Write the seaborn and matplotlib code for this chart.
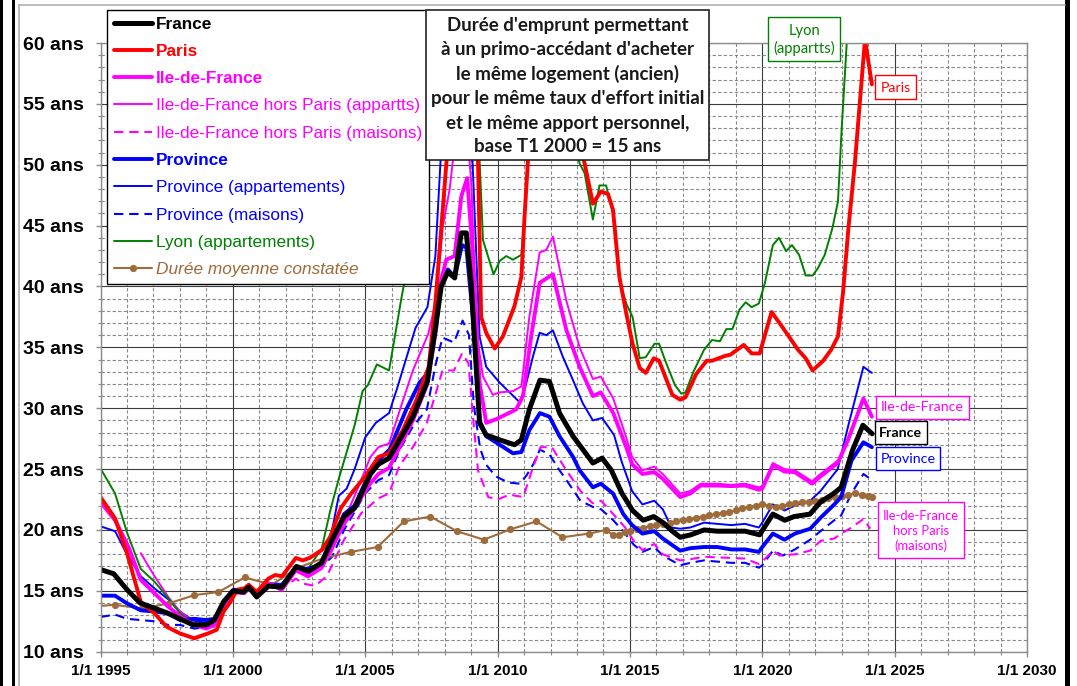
import matplotlib
matplotlib.use("Agg")
import matplotlib.pyplot as plt
from matplotlib.lines import Line2D
from matplotlib.patches import Rectangle
from matplotlib.ticker import MultipleLocator
import seaborn as sns
import pandas as pd

# ---------------- data (year, duration in years) ----------------
france = [(1995.0,16.75),(1995.5,16.4),(1996.0,15.1),(1996.5,14.0),(1997.0,13.6),(1997.5,13.2),(1998.0,12.7),(1998.5,12.2),(1999.0,12.2),(1999.3,12.6),(1999.65,14.1),(2000.0,15.0),(2000.4,14.9),(2000.6,15.3),(2000.9,14.5),(2001.35,15.4),(2001.85,15.3),(2002.4,17.0),(2002.85,16.6),(2003.35,17.3),(2003.75,19.2),(2004.2,21.1),(2004.6,21.8),(2005.2,24.6),(2005.5,25.4),(2005.9,25.9),(2006.3,27.4),(2006.8,29.3),(2007.35,32.2),(2007.68,37.0),(2007.87,40.0),(2008.12,41.2),(2008.38,40.7),(2008.63,44.4),(2008.82,44.4),(2009.0,40.3),(2009.32,28.8),(2009.57,27.8),(2010.08,27.4),(2010.64,27.0),(2010.9,27.4),(2011.2,29.9),(2011.6,32.3),(2011.96,32.2),(2012.34,29.6),(2012.85,27.7),(2013.6,25.5),(2013.95,25.9),(2014.3,24.9),(2014.7,23.0),(2015.1,21.6),(2015.5,20.8),(2015.9,21.1),(2016.25,20.6),(2016.6,19.9),(2016.9,19.4),(2017.3,19.6),(2017.8,20.0),(2018.3,19.9),(2018.8,19.9),(2019.35,19.9),(2019.9,19.6),(2020.0,19.95),(2020.4,21.3),(2020.85,20.8),(2021.2,21.1),(2021.8,21.3),(2022.2,22.3),(2022.7,23.0),(2022.98,23.5),(2023.4,26.5),(2023.8,28.6),(2024.15,27.9)]

paris = [(1995.0,22.7),(1995.55,20.95),(1996.0,18.1),(1996.52,14.1),(1997.04,13.15),(1997.5,12.05),(1998.0,11.5),(1998.54,11.1),(1999.06,11.5),(1999.39,11.8),(1999.65,13.3),(1999.91,14.1),(2000.17,15.1),(2000.43,15.2),(2000.6,15.5),(2000.9,14.9),(2001.34,16.0),(2001.6,16.3),(2001.86,16.2),(2002.38,17.7),(2002.64,17.5),(2002.9,17.7),(2003.36,18.35),(2003.68,19.45),(2004.08,21.8),(2004.47,23.0),(2005.0,24.4),(2005.5,26.0),(2005.9,26.3),(2006.42,28.2),(2006.94,30.7),(2007.4,33.4),(2007.66,38.9),(2008.08,50.5),(2008.5,62.0),(2009.0,62.0),(2009.26,50.4),(2009.38,37.5),(2009.57,36.2),(2009.89,34.9),(2010.2,35.9),(2010.64,38.4),(2010.9,40.8),(2011.02,45.8),(2011.15,50.4),(2011.6,55.0),(2012.2,56.0),(2012.9,53.0),(2013.29,50.1),(2013.6,46.8),(2013.9,47.8),(2014.17,47.6),(2014.36,46.3),(2014.6,40.8),(2014.86,37.8),(2015.1,35.3),(2015.37,33.3),(2015.6,32.9),(2015.9,34.1),(2016.1,33.9),(2016.6,31.1),(2016.9,30.7),(2017.1,30.9),(2017.5,32.8),(2017.9,33.9),(2018.1,33.9),(2018.6,34.3),(2018.8,34.4),(2019.3,35.2),(2019.6,34.5),(2019.9,34.5),(2020.35,37.9),(2020.65,37.0),(2020.97,36.0),(2021.35,34.8),(2021.64,34.1),(2021.9,33.1),(2022.3,33.9),(2022.6,34.8),(2022.86,35.9),(2023.05,39.5),(2023.25,44.7),(2023.5,50.2),(2023.88,60.3),(2024.14,56.6)]

idf = [(1995.0,22.3),(1995.55,20.8),(1996.06,18.6),(1996.52,15.9),(1997.04,14.8),(1997.56,13.7),(1998.0,12.9),(1998.54,12.2),(1999.0,11.9),(1999.3,12.2),(1999.65,13.4),(2000.04,14.9),(2000.43,14.8),(2000.6,15.2),(2000.9,14.8),(2001.34,15.6),(2001.86,15.2),(2002.38,16.7),(2002.84,16.3),(2003.36,17.1),(2003.75,18.6),(2004.2,20.5),(2004.6,21.8),(2005.18,23.8),(2005.5,24.6),(2005.9,25.1),(2006.3,26.8),(2006.8,29.0),(2007.33,31.9),(2007.68,36.5),(2007.81,40.0),(2008.06,42.2),(2008.38,42.5),(2008.63,47.4),(2008.85,48.9),(2009.07,42.5),(2009.32,32.1),(2009.57,28.8),(2009.95,29.1),(2010.33,29.5),(2010.7,29.9),(2010.96,31.0),(2011.27,35.9),(2011.59,40.3),(2012.09,41.0),(2012.6,36.4),(2013.1,33.4),(2013.6,31.0),(2013.9,31.3),(2014.37,29.6),(2014.86,26.8),(2015.08,25.4),(2015.47,24.6),(2015.92,24.75),(2016.24,24.2),(2016.9,22.7),(2017.28,23.0),(2017.67,23.65),(2018.3,23.65),(2018.83,23.6),(2019.35,23.65),(2019.87,23.3),(2020.0,23.4),(2020.4,25.3),(2020.84,24.8),(2021.23,24.75),(2021.88,23.8),(2022.2,24.4),(2022.85,25.5),(2023.24,27.4),(2023.82,30.8),(2024.14,29.3)]

idf_hp_apparts = [(1996.52,18.1),(1997.04,16.2),(1997.56,14.5),(1998.0,13.3),(1998.54,12.4),(1999.0,12.0),(1999.3,12.3),(1999.65,13.5),(2000.04,14.9),(2000.43,14.8),(2000.6,15.2),(2000.9,14.6),(2001.34,15.5),(2001.86,15.0),(2002.38,16.6),(2002.84,16.1),(2003.36,16.8),(2003.75,18.3),(2004.2,20.8),(2004.6,22.8),(2005.2,26.0),(2005.5,26.8),(2005.9,27.1),(2006.3,29.8),(2006.8,33.1),(2007.38,36.1),(2007.68,38.9),(2007.93,44.9),(2008.19,48.0),(2008.45,53.0),(2008.75,56.0),(2009.02,48.0),(2009.19,36.4),(2009.45,32.6),(2009.82,31.1),(2010.08,31.3),(2010.58,31.4),(2010.9,31.8),(2011.2,37.5),(2011.59,42.8),(2011.84,43.0),(2012.09,44.1),(2012.6,38.8),(2013.1,35.0),(2013.6,32.4),(2013.9,32.6),(2014.37,30.8),(2014.86,27.6),(2015.08,26.0),(2015.47,24.9),(2015.92,25.2),(2016.24,24.6),(2016.9,23.0),(2017.28,23.2),(2017.67,23.8),(2018.3,23.8),(2018.83,23.7),(2019.35,23.8),(2019.87,23.5),(2020.0,23.6),(2020.4,25.5),(2020.84,25.0),(2021.23,24.9),(2021.88,24.0),(2022.2,24.6),(2022.85,25.7)]

idf_hp_maisons = [(2001.75,15.0),(2002.38,16.0),(2002.64,15.6),(2003.1,15.4),(2003.55,16.2),(2003.9,17.8),(2004.2,19.2),(2004.86,21.4),(2005.5,22.6),(2005.9,23.0),(2006.3,25.3),(2006.8,26.8),(2007.33,28.8),(2007.66,31.2),(2007.92,33.1),(2008.35,33.1),(2008.66,34.5),(2008.9,33.7),(2009.07,29.3),(2009.26,24.9),(2009.65,22.7),(2010.0,22.5),(2010.45,22.9),(2010.97,22.7),(2011.3,24.9),(2011.62,26.8),(2012.05,26.8),(2012.6,24.9),(2013.13,23.2),(2013.59,22.2),(2013.91,22.4),(2014.37,21.3),(2014.82,20.2),(2015.14,19.1),(2015.47,18.35),(2015.92,18.85),(2016.24,18.0),(2016.9,17.5),(2017.28,17.6),(2017.8,17.8),(2018.3,17.75),(2018.83,17.7),(2019.35,17.65),(2019.87,17.2),(2020.0,17.4),(2020.4,18.3),(2020.65,17.9),(2021.23,18.0),(2021.81,18.3),(2022.2,19.1),(2022.72,19.3),(2022.98,19.7),(2023.37,20.2),(2023.82,20.9),(2024.08,20.1)]

province = [(1995.0,14.6),(1995.55,14.6),(1996.0,13.97),(1996.52,13.4),(1997.04,13.3),(1997.56,13.15),(1998.0,12.6),(1998.54,12.7),(1999.0,12.6),(1999.3,12.7),(1999.65,14.0),(2000.04,15.1),(2000.43,14.9),(2000.6,15.3),(2000.9,14.5),(2001.34,15.5),(2001.86,15.5),(2002.38,16.9),(2002.84,16.8),(2003.36,17.2),(2003.75,19.0),(2004.2,21.3),(2004.6,22.0),(2005.3,25.3),(2005.92,26.6),(2006.55,29.9),(2007.05,32.1),(2007.37,32.9),(2007.68,37.5),(2007.87,40.1),(2008.12,41.4),(2008.38,40.8),(2008.66,43.4),(2008.82,43.2),(2009.07,37.5),(2009.32,29.0),(2009.57,27.7),(2010.08,27.0),(2010.58,26.3),(2010.9,26.4),(2011.2,28.2),(2011.6,29.6),(2011.96,29.3),(2012.34,27.7),(2012.85,26.0),(2013.1,24.9),(2013.6,23.5),(2013.9,23.8),(2014.36,23.0),(2014.75,21.3),(2015.08,20.4),(2015.47,19.7),(2015.92,19.9),(2016.24,19.3),(2016.9,18.3),(2017.28,18.5),(2017.8,18.6),(2018.3,18.6),(2018.83,18.4),(2019.35,18.4),(2019.87,18.2),(2020.0,18.6),(2020.4,19.7),(2020.84,19.2),(2021.23,19.7),(2021.81,20.1),(2022.2,21.0),(2022.72,22.1),(2022.98,22.7),(2023.37,25.7),(2023.82,27.2),(2024.14,26.8)]

province_apparts = [(1995.0,20.3),(1995.55,19.9),(1996.0,18.0),(1996.52,16.2),(1997.04,15.2),(1997.56,14.3),(1998.0,13.3),(1998.54,12.5),(1999.0,12.4),(1999.3,12.5),(1999.65,13.9),(2000.04,15.0),(2000.43,14.8),(2000.6,15.2),(2000.9,14.4),(2001.34,15.5),(2001.86,15.4),(2002.38,16.9),(2002.84,16.8),(2003.36,17.4),(2003.75,20.0),(2004.0,22.8),(2004.3,23.4),(2004.6,25.0),(2005.0,27.6),(2005.4,28.8),(2005.9,29.6),(2006.2,31.6),(2006.9,36.6),(2007.35,38.3),(2007.65,42.5),(2007.85,50.5),(2008.3,57.0),(2008.75,58.0),(2009.05,50.5),(2009.32,35.9),(2009.57,33.4),(2010.08,32.1),(2010.83,30.5),(2011.02,31.5),(2011.33,34.2),(2011.59,36.2),(2011.84,36.0),(2012.09,36.4),(2012.47,34.2),(2012.85,32.3),(2013.22,30.4),(2013.6,29.0),(2013.95,29.2),(2014.4,27.8),(2014.69,25.6),(2015.08,23.2),(2015.47,22.1),(2015.92,22.4),(2016.24,21.7),(2016.57,20.2),(2016.9,20.1),(2017.28,20.2),(2017.8,20.6),(2018.3,20.5),(2018.83,20.4),(2019.35,20.5),(2019.87,20.2),(2020.0,20.6),(2020.4,22.1),(2020.84,21.6),(2021.23,22.0),(2021.81,22.4),(2022.2,23.2),(2022.85,25.0),(2023.24,28.5),(2023.82,33.4),(2024.14,32.9)]

province_maisons = [(1995.0,12.85),(1995.55,13.05),(1996.0,12.7),(1996.52,12.6),(1997.04,12.5),(1997.56,12.2),(1998.0,12.2),(1998.54,11.9),(1999.0,12.0),(1999.3,12.4),(1999.65,13.9),(2000.04,15.0),(2000.43,14.8),(2000.6,15.2),(2000.9,14.4),(2001.34,15.4),(2001.86,15.2),(2002.38,16.7),(2002.84,16.6),(2003.36,17.0),(2003.75,17.8),(2004.2,20.0),(2005.0,23.0),(2005.5,24.1),(2005.9,24.5),(2006.3,26.6),(2006.8,28.5),(2007.33,29.9),(2007.66,33.6),(2007.92,35.8),(2008.35,35.4),(2008.68,37.2),(2008.92,36.0),(2009.1,30.3),(2009.34,26.7),(2009.55,25.4),(2009.93,24.4),(2010.4,23.9),(2010.84,23.8),(2011.1,24.5),(2011.35,25.4),(2011.6,26.6),(2011.96,26.2),(2012.34,24.9),(2012.6,24.1),(2013.13,22.4),(2013.59,21.9),(2013.91,21.7),(2014.37,20.8),(2014.82,19.7),(2015.14,18.8),(2015.47,18.2),(2015.92,18.6),(2016.24,17.9),(2016.9,17.1),(2017.28,17.3),(2017.8,17.5),(2018.3,17.4),(2018.83,17.3),(2019.35,17.3),(2019.87,16.9),(2020.0,17.1),(2020.4,18.3),(2020.78,17.9),(2021.23,18.4),(2021.81,19.2),(2022.2,19.9),(2022.72,20.8),(2022.98,21.2),(2023.37,23.0),(2023.82,24.6),(2024.08,24.2)]

lyon = [(1995.0,25.05),(1995.55,23.0),(1996.0,19.8),(1996.52,16.8),(1997.04,15.75),(1997.56,14.4),(1998.0,13.15),(1998.54,12.3),(1999.0,12.3),(1999.45,12.7),(1999.65,14.0),(2000.04,15.1),(2000.43,14.8),(2000.6,15.3),(2000.9,14.4),(2001.34,15.7),(2001.86,15.3),(2002.38,17.0),(2002.84,16.8),(2003.36,18.5),(2003.68,21.6),(2004.0,24.2),(2004.6,28.6),(2004.9,31.4),(2005.1,31.9),(2005.44,33.6),(2005.9,33.1),(2006.38,39.2),(2006.9,45.0),(2007.3,48.4),(2007.45,51.0),(2007.9,58.0),(2008.5,62.0),(2009.0,60.0),(2009.32,50.4),(2009.45,43.8),(2009.85,41.0),(2010.08,42.1),(2010.33,42.5),(2010.58,42.2),(2010.9,42.6),(2011.02,45.8),(2011.15,50.4),(2011.6,56.0),(2012.4,57.0),(2012.9,52.0),(2013.1,50.1),(2013.29,49.3),(2013.6,45.5),(2013.85,48.3),(2014.1,48.3),(2014.36,46.0),(2014.6,40.5),(2014.86,38.6),(2015.1,37.5),(2015.37,34.1),(2015.6,34.2),(2015.93,35.3),(2016.1,35.3),(2016.37,33.7),(2016.7,31.9),(2016.94,31.2),(2017.1,31.3),(2017.4,33.0),(2017.8,34.8),(2018.1,35.6),(2018.4,35.5),(2018.64,36.5),(2018.87,36.5),(2019.14,38.1),(2019.37,38.7),(2019.6,38.3),(2019.87,38.6),(2020.1,40.3),(2020.4,43.4),(2020.63,44.0),(2020.9,42.9),(2021.12,43.4),(2021.39,42.6),(2021.64,40.9),(2021.9,40.9),(2022.1,41.5),(2022.36,42.6),(2022.65,44.8),(2022.86,47.0),(2023.0,53.0),(2023.19,60.0),(2023.35,66.0)]

duree_constatee = [(1994.55,13.7),(1995.55,13.85),(1996.55,13.55),(1997.55,13.95),(1998.55,14.65),(1999.45,14.9),(2000.45,16.1),(2001.47,15.5),(2002.45,16.9),(2003.45,17.7),(2004.47,18.2),(2005.47,18.6),(2006.46,20.7),(2007.46,21.1),(2008.46,19.9),(2009.48,19.2),(2010.48,20.05),(2011.47,20.7),(2012.45,19.4),(2013.45,19.7),(2014.1,20.0),(2014.35,19.6),(2014.6,19.6),(2014.8,19.8),(2015.0,19.95),(2015.25,20.1),(2015.5,20.2),(2015.75,20.3),(2016.0,20.4),(2016.25,20.5),(2016.5,20.6),(2016.75,20.7),(2017.0,20.8),(2017.25,20.9),(2017.5,21.0),(2017.75,21.1),(2018.0,21.2),(2018.25,21.3),(2018.5,21.4),(2018.75,21.5),(2019.0,21.6),(2019.25,21.8),(2019.5,21.9),(2019.75,22.0),(2020.0,22.1),(2020.25,22.0),(2020.5,21.9),(2020.75,22.0),(2021.0,22.1),(2021.25,22.2),(2021.5,22.3),(2021.75,22.3),(2022.0,22.4),(2022.25,22.5),(2022.5,22.6),(2022.75,22.7),(2023.0,22.8),(2023.25,22.9),(2023.5,23.0),(2023.75,22.9),(2024.0,22.8),(2024.15,22.7)]

legend_labels = ["France", "Paris", "Ile-de-France", "Ile-de-France hors Paris (appartts)",
                 "Ile-de-France hors Paris (maisons)", "Province", "Province (appartements)",
                 "Province (maisons)", "Lyon (appartements)", "Durée moyenne constatée"]
x_ticks = [1995, 2000, 2005, 2010, 2015, 2020, 2025, 2030]
x_tick_labels = ["1/1 %d" % y for y in x_ticks]
y_ticks = [10, 15, 20, 25, 30, 35, 40, 45, 50, 55, 60]
y_tick_labels = ["%d ans" % v for v in y_ticks]
title_lines = ["Durée d'emprunt permettant", "à un primo-accédant d'acheter",
               "le même logement (ancien)", "pour le même taux d'effort initial",
               "et le même apport personnel,", "base T1 2000 = 15 ans"]

# ---------------- styles ----------------
RED, MAG, BLUE, GREEN, BROWN = "#FF0000", "#FF00FF", "#0000FF", "#008000", "#9E6B3B"
DASH = (0, (4.5, 2.8))
series = [
    (province_maisons, dict(color=BLUE, lw=1.5, ls=DASH)),
    (idf_hp_maisons, dict(color=MAG, lw=1.5, ls=DASH)),
    (province_apparts, dict(color=BLUE, lw=1.4, ls="-")),
    (idf_hp_apparts, dict(color=MAG, lw=1.4, ls="-")),
    (lyon, dict(color=GREEN, lw=1.4, ls="-")),
    (duree_constatee, dict(color=BROWN, lw=1.5, ls="-", marker="o", ms=5.2)),
    (province, dict(color=BLUE, lw=2.8, ls="-")),
    (idf, dict(color=MAG, lw=2.8, ls="-")),
    (paris, dict(color=RED, lw=2.8, ls="-")),
    (france, dict(color="black", lw=3.6, ls="-")),
]

sns.set_theme(style="white")
plt.rcParams['font.family'] = ['Liberation Sans', 'DejaVu Sans']

W, H = 1077, 686
fig = plt.figure(figsize=(W / 100, H / 100), dpi=100, facecolor="white")
X0, X1, YB, YT = 100.5, 1027.0, 651.7, 43.0
ax = fig.add_axes([X0 / W, 1 - YB / H, (X1 - X0) / W, (YB - YT) / H])
ax.set_facecolor("white")

for data, st in series:
    df = pd.DataFrame(data, columns=["annee", "duree"])
    kws = dict(color=st["color"], linewidth=st["lw"], linestyle=st["ls"])
    if "marker" in st:
        kws.update(marker=st["marker"], markersize=st["ms"], markeredgewidth=0,
                   markerfacecolor=st["color"])
    sns.lineplot(data=df, x="annee", y="duree", ax=ax, sort=False, estimator=None,
                 legend=False, **kws)

ax.set_xlim(1995, 2030)
ax.set_ylim(10, 60)
ax.set_xticks(x_ticks)
ax.set_xticklabels(x_tick_labels, fontsize=11, fontweight="bold")
ax.set_yticks(y_ticks)
ax.set_yticklabels(y_tick_labels, fontsize=14, fontweight="bold")
ax.xaxis.set_minor_locator(MultipleLocator(1))
ax.yaxis.set_minor_locator(MultipleLocator(1))
ax.set_xlabel("")
ax.set_ylabel("")
ax.set_axisbelow(True)
ax.grid(which="major", color="#3c3c3c", lw=0.8, ls="-")
ax.grid(which="minor", color="#8a8a8a", lw=0.8, ls=(0, (3, 2)))
for s in ax.spines.values():
    s.set_color("#8c8c8c")
    s.set_linewidth(1.0)
ax.tick_params(which="major", direction="out", length=3.6, width=1, color="#8c8c8c",
               labelcolor="black")
ax.tick_params(axis="y", which="major", pad=8.5)
ax.tick_params(axis="x", which="major", pad=5)
ax.tick_params(which="minor", direction="out", length=2.2, width=0.8, color="#8c8c8c")
ax.tick_params(left=True, bottom=True, which="both")

# ---------------- legend ----------------
legend_order = [9, 8, 7, 3, 1, 6, 2, 0, 4, 5]
handles = []
for i in legend_order:
    st = series[i][1]
    h = Line2D([], [], color=st["color"], lw=st["lw"], ls=st["ls"],
               marker=st.get("marker", None), markersize=st.get("ms", 0),
               markeredgewidth=0)
    handles.append(h)
leg = fig.legend(handles, legend_labels, loc="upper left",
                 bbox_to_anchor=(107 / W, 1 - 10 / H), bbox_transform=fig.transFigure,
                 frameon=True, fancybox=False, framealpha=1, edgecolor="black",
                 borderpad=0.38, labelspacing=0.71, handlelength=2.25, handletextpad=0.22,
                 borderaxespad=0, prop=dict(family="Liberation Sans", size=12.4),
                 markerfirst=True)
leg.get_frame().set_linewidth(1.0)
leg.set_zorder(5)
text_styles = [("black", "bold", "normal"), (RED, "bold", "normal"), (MAG, "bold", "normal"),
               (MAG, "normal", "normal"), (MAG, "normal", "normal"), (BLUE, "bold", "normal"),
               (BLUE, "normal", "normal"), (BLUE, "normal", "normal"), (GREEN, "normal", "normal"),
               (BROWN, "normal", "italic")]
for t, (c, w, s) in zip(leg.get_texts(), text_styles):
    t.set_color(c)
    t.set_fontweight(w)
    t.set_fontstyle(s)

renderer = fig.canvas.get_renderer()


def fig_box(x0, y0, x1, y1, ec, lw=1.0):
    fig.add_artist(Rectangle((x0 / W, 1 - y1 / H), (x1 - x0) / W, (y1 - y0) / H,
                             transform=fig.transFigure, facecolor="white", edgecolor=ec,
                             linewidth=lw, zorder=6))


def fit_text(xc, yc, s, width_px, size=None, **kw):
    t = fig.text(xc / W, 1 - yc / H, s, ha="center", va="center", zorder=7,
                 fontsize=10 if size is None else size, **kw)
    if size is None:
        w = t.get_window_extent(renderer).width
        t.set_fontsize(10 * width_px / w)
    return t


# title box
fig_box(426, 10, 709, 160, "#222222", 1.2)
t_ref = fit_text(567.5, 98.5, title_lines[3], 275, family="Lato", fontweight="bold",
                 color="#1a1a1a")
tsize = t_ref.get_fontsize()
for yc, line in zip([25, 50, 74, 98.5, 123, 146.5], title_lines):
    if line == title_lines[3]:
        continue
    fit_text(567.5, yc, line, 0, size=tsize, family="Lato", fontweight="bold",
             color="#1a1a1a")

# series labels on the right
fig_box(768, 17, 840, 61, GREEN)
fit_text(804, 40, "Lyon\n(appartts)", 62, family="Lato", color=GREEN, linespacing=1.3)
fig_box(875, 75, 916, 99, RED)
fit_text(895.5, 87.5, "Paris", 30, family="Lato", color=RED)
fig_box(875.7, 395.7, 969, 419, MAG)
fit_text(922.4, 407.5, "Ile-de-France", 83, family="Lato", color=MAG)
fig_box(874.7, 421.3, 926.7, 444, "black")
fit_text(900.7, 432.7, "France", 43, family="Lato", fontweight="bold", color="black")
fig_box(875.7, 447, 940, 470.3, BLUE)
fit_text(908, 458.7, "Province", 55, family="Lato", color=BLUE)
fig_box(878.3, 502, 964.3, 558.3, MAG)
fit_text(921.3, 531, "Ile-de-France\nhors Paris\n(maisons)", 76, family="Lato", color=MAG,
         linespacing=1.22)

# outer frame decorations
for (x0, x1, c) in [(0, 3, "black"), (11.5, 15, "black"), (1065, 1070, "black")]:
    fig.add_artist(Rectangle((x0 / W, 0), (x1 - x0) / W, 1, transform=fig.transFigure,
                             facecolor=c, edgecolor="none", zorder=8))
fig.add_artist(Line2D([19 / W, 19 / W], [0, 1 - 5 / H], transform=fig.transFigure,
                      color="#b0b0b0", lw=1.2, zorder=8))
fig.add_artist(Line2D([19 / W, 1065 / W], [1 - 5 / H, 1 - 5 / H], transform=fig.transFigure,
                      color="#b0b0b0", lw=1.2, zorder=8))

fig.savefig("out.png", dpi=100, facecolor="white")
